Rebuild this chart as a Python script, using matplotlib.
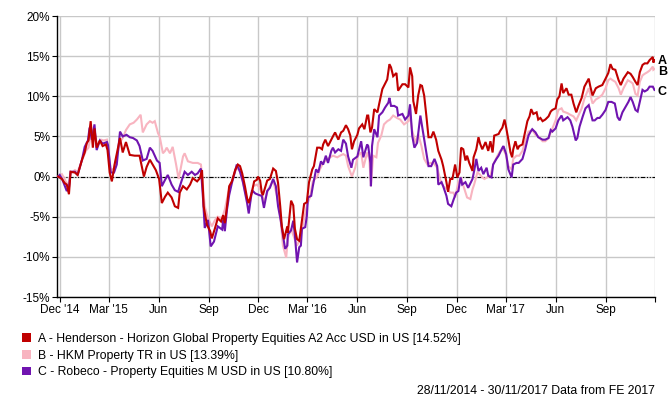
import pandas as pd
import matplotlib
matplotlib.use("Agg")
import matplotlib.pyplot as plt
from matplotlib.patches import Patch

START = pd.Timestamp("2014-11-28")

# days since 28/11/2014 and cumulative performance (%)
a_days = [0, 7, 12, 16, 20, 23, 31, 36, 44, 49, 53, 56, 60, 64, 67, 71, 77, 82, 88, 91,
          95, 99, 104, 110, 114, 119, 125, 132, 141, 150, 158, 163, 169, 174, 180, 186, 191, 197, 202, 209,
          215, 221, 224, 230, 237, 243, 248, 256, 261, 265, 268, 274, 280, 283, 289, 294, 300, 304, 307, 311,
          315, 320, 326, 331, 335, 339, 344, 348, 351, 357, 361, 366, 368, 372, 375, 377, 385, 390, 396, 401,
          405, 409, 412, 416, 422, 423, 429, 433, 436, 440, 444, 449, 453, 458, 462, 468, 471, 477, 482, 486,
          488, 492, 497, 503, 506, 510, 516, 521, 525, 530, 534, 538, 541, 545, 551, 554, 560, 564, 569, 571,
          575, 578, 582, 588, 591, 597, 600, 606, 610, 613, 617, 623, 626, 634, 639, 645, 648, 652, 654, 659,
          663, 667, 670, 674, 678, 682, 687, 691, 696, 700, 706, 709, 715, 718, 722, 726, 731, 735, 739, 742,
          746, 750, 753, 757, 763, 765, 770, 774, 777, 781, 787, 792, 796, 800, 803, 811, 814, 818, 822, 825,
          829, 833, 836, 838, 842, 846, 849, 855, 859, 864, 868, 871, 875, 881, 884, 888, 892, 897, 903, 907,
          910, 916, 919, 923, 927, 930, 936, 940, 945, 949, 954, 958, 964, 969, 977, 980, 984, 990, 995, 1002,
          1008, 1013, 1017, 1021, 1026, 1032, 1036, 1041, 1049, 1054, 1058, 1063, 1067, 1071, 1076, 1080, 1085, 1089, 1095, 1096,
          1098]
a_vals = [0.0, -0.3, -0.8, -1.0, -2.2, 0.6, 0.5, 0.2, 2.1, 3.0, 4.2, 4.5, 6.9, 3.6, 6.0, 3.6, 4.5, 3.8, 4.0, 3.3,
          0.5, -0.6, 1.5, 3.5, 4.8, 3.0, 4.3, 2.7, 2.6, 2.6, 0.0, 1.2, 2.1, 1.5, 0.8, -0.3, -3.3, -2.5, -2.0, -2.6,
          -3.7, -3.9, -2.0, -1.2, -1.6, -1.0, -0.2, -0.6, -0.2, 0.8, -3.7, -6.0, -6.8, -7.7, -6.4, -5.2, -5.6, -4.8, -5.8, -3.7,
          -1.2, -0.6, 0.8, 1.5, 1.3, 0.4, -1.2, -2.7, -3.3, -1.9, -0.6, -0.4, 0.0, -0.5, -2.0, -2.3, -0.5, -0.3, 1.0, 0.7,
          -0.8, -3.7, -6.2, -7.8, -6.2, -7.0, -3.0, -3.6, -6.5, -7.8, -8.0, -5.4, -3.4, -3.2, -0.7, 0.9, 1.3, 3.6, 3.6, 3.4,
          4.0, 4.6, 3.8, 4.6, 5.0, 5.5, 4.6, 5.5, 5.7, 6.4, 5.9, 5.1, 3.4, 4.4, 5.2, 6.0, 6.5, 5.9, 7.6, 7.6,
          5.5, 6.1, 8.4, 8.0, 9.0, 10.9, 11.3, 12.1, 14.0, 13.6, 12.5, 12.9, 10.7, 11.5, 11.5, 11.1, 13.6, 12.5, 9.4, 7.8,
          10.1, 11.4, 11.3, 10.1, 7.6, 4.9, 4.9, 5.6, 4.6, 3.2, 2.1, 1.3, -0.7, -1.9, -0.3, -0.3, 1.5, -0.1, 0.5, 3.6,
          3.4, 2.0, 2.6, 1.7, 0.7, 2.4, 3.4, 4.9, 4.1, 3.4, 4.3, 3.2, 4.4, 3.0, 5.1, 5.3, 5.7, 6.1, 7.1, 6.1,
          4.6, 3.0, 2.4, 3.4, 4.4, 3.4, 3.8, 4.0, 5.3, 6.9, 7.5, 8.4, 7.8, 8.0, 7.1, 7.3, 6.9, 7.1, 7.5, 8.1,
          8.3, 8.5, 9.6, 10.0, 11.6, 10.4, 11.0, 10.2, 10.2, 9.1, 8.0, 8.8, 9.8, 11.2, 12.2, 11.2, 10.1, 11.0, 11.2, 11.4,
          12.2, 12.9, 14.0, 13.4, 13.3, 12.0, 11.4, 12.2, 13.0, 12.8, 12.4, 11.8, 11.4, 13.0, 13.9, 14.1, 14.1, 14.5, 14.9, 14.2,
          14.5]

b_days = [0, 7, 12, 18, 23, 31, 36, 44, 51, 56, 62, 67, 73, 79, 84, 90, 93, 97, 103, 108,
          114, 119, 125, 132, 139, 145, 152, 156, 163, 169, 174, 178, 184, 187, 193, 197, 200, 206, 211, 217,
          222, 230, 233, 239, 248, 257, 263, 267, 270, 276, 283, 289, 294, 302, 307, 313, 320, 329, 335, 340,
          348, 353, 359, 366, 370, 375, 379, 387, 396, 403, 409, 414, 420, 423, 429, 433, 440, 446, 451, 458,
          464, 469, 477, 482, 488, 495, 501, 506, 514, 519, 525, 530, 534, 541, 547, 552, 558, 562, 569, 573,
          576, 580, 586, 589, 595, 600, 606, 611, 617, 624, 630, 637, 645, 648, 652, 658, 663, 669, 674, 680,
          685, 691, 698, 704, 709, 717, 722, 728, 731, 737, 742, 746, 753, 759, 763, 766, 772, 776, 781, 785,
          790, 796, 801, 809, 814, 820, 825, 829, 835, 838, 844, 849, 855, 860, 866, 873, 879, 884, 892, 897,
          903, 910, 916, 921, 927, 930, 938, 943, 949, 954, 958, 964, 969, 977, 980, 984, 990, 995, 1002, 1008,
          1013, 1017, 1021, 1026, 1032, 1036, 1041, 1049, 1054, 1058, 1063, 1067, 1071, 1076, 1080, 1085, 1089, 1095, 1096, 1098]
b_vals = [0.0, 0.3, -0.3, -1.2, 0.4, 0.8, 0.6, 2.0, 3.2, 3.6, 5.8, 5.0, 4.0, 4.6, 4.5, 4.6, 3.0, 0.8, 1.0, 2.5,
          4.3, 4.8, 5.8, 6.5, 6.7, 7.1, 7.7, 5.5, 6.5, 6.9, 6.7, 6.9, 5.4, 5.0, 2.9, 3.2, 3.6, 2.9, 3.7, 1.6,
          -0.3, 2.5, 2.9, 1.9, 1.7, 1.7, 1.5, -1.5, -3.7, -5.2, -6.2, -5.4, -5.0, -5.2, -4.1, -2.1, -0.6, 1.2, 0.6, -0.6,
          -2.9, -3.3, -1.2, -1.0, -1.3, -2.0, -3.2, -1.6, -0.5, -2.4, -4.8, -8.6, -10.1, -7.7, -6.5, -7.3, -8.6, -7.7, -5.9, -3.6,
          -2.5, -0.6, 0.0, 0.9, 1.7, 2.1, 2.4, 2.6, 2.4, 2.6, 2.8, 2.6, 1.3, 0.0, 1.1, 2.6, 3.0, 1.1, 3.0, 2.2,
          -1.2, 2.6, 2.4, 4.2, 5.1, 6.5, 6.9, 7.1, 7.6, 7.3, 7.1, 6.5, 6.9, 7.6, 5.7, 4.2, 5.3, 3.8, 2.2, 1.5,
          1.7, 1.7, 1.1, -0.5, -1.2, -1.6, -2.0, -2.0, -2.6, -0.7, -0.1, -1.1, -2.6, -2.8, -1.6, -1.0, 0.5, 0.3, -0.1, -0.3,
          -0.1, 0.1, 1.5, 2.6, 3.2, 3.4, 2.6, 1.3, 0.9, 2.2, 2.6, 2.6, 3.2, 4.4, 5.6, 5.8, 5.2, 5.0, 4.4, 4.4,
          4.8, 6.0, 7.0, 8.3, 8.5, 8.1, 7.9, 7.7, 7.5, 7.0, 7.6, 8.5, 9.7, 11.0, 10.2, 9.1, 9.6, 9.8, 10.2, 11.0,
          12.0, 12.2, 12.0, 11.8, 11.0, 10.2, 11.0, 12.0, 11.8, 11.6, 10.3, 10.1, 11.8, 12.6, 12.8, 13.0, 13.2, 13.7, 13.3, 13.4]

c_days = [0, 3, 8, 16, 20, 23, 31, 36, 44, 49, 55, 58, 62, 67, 71, 77, 82, 90, 92, 97,
          103, 108, 114, 119, 126, 132, 138, 145, 150, 156, 163, 169, 174, 182, 187, 191, 197, 202, 209, 215,
          221, 228, 233, 239, 246, 252, 257, 263, 267, 270, 276, 281, 287, 294, 302, 304, 307, 311, 315, 320,
          329, 335, 340, 348, 351, 357, 363, 370, 375, 379, 385, 390, 396, 401, 405, 410, 414, 418, 422, 423,
          429, 433, 436, 440, 444, 447, 449, 455, 458, 460, 466, 469, 475, 479, 484, 488, 493, 497, 503, 506,
          510, 516, 521, 525, 530, 534, 540, 543, 551, 552, 558, 562, 569, 571, 575, 576, 578, 582, 588, 591,
          597, 602, 608, 610, 613, 619, 624, 626, 634, 639, 645, 648, 652, 656, 661, 667, 672, 678, 682, 687,
          693, 698, 700, 706, 709, 715, 718, 724, 728, 733, 737, 741, 744, 750, 755, 763, 766, 770, 774, 779,
          783, 789, 792, 798, 801, 807, 811, 818, 820, 825, 829, 835, 838, 844, 848, 855, 860, 866, 870, 873,
          879, 884, 892, 897, 903, 907, 910, 916, 921, 927, 930, 938, 943, 947, 953, 956, 960, 966, 971, 977,
          980, 984, 988, 993, 997, 1002, 1008, 1013, 1019, 1025, 1030, 1034, 1039, 1045, 1050, 1054, 1058, 1063, 1067, 1071,
          1076, 1080, 1085, 1089, 1095, 1098]
c_vals = [0.0, 0.2, -0.4, -1.8, -1.4, 0.6, 0.6, 0.2, 2.1, 3.7, 4.5, 6.1, 4.6, 6.5, 3.3, 4.5, 4.1, 4.3, 3.9, 0.5,
          0.5, 1.5, 5.6, 5.0, 5.2, 4.9, 4.8, 4.5, 3.8, 2.0, 2.2, 3.6, 3.2, 2.0, 1.7, -1.2, -0.4, 0.2, -1.0, -1.7,
          -1.9, -0.4, 0.6, 0.2, 0.6, 0.2, 0.4, 1.0, -2.9, -6.4, -5.4, -8.7, -8.1, -6.2, -6.6, -5.4, -6.8, -4.1, -2.3, -0.8,
          1.5, 0.6, -0.6, -3.3, -4.6, -1.7, -2.1, -2.3, -2.4, -3.9, -1.8, -1.4, -0.3, -1.2, -3.7, -5.5, -7.3, -9.0, -8.6, -7.2,
          -6.7, -5.5, -7.3, -10.7, -8.8, -8.6, -6.5, -6.3, -4.9, -2.6, -2.4, -1.2, 0.9, 0.5, 1.9, 1.5, 2.6, 1.7, 3.2, 3.6,
          3.0, 3.4, 3.2, 4.6, 4.1, 2.5, 1.1, 2.1, 2.5, 2.8, 4.4, 2.4, 4.0, 3.8, 1.7, -1.2, 3.8, 5.9, 4.9, 7.6,
          8.0, 8.6, 9.2, 9.8, 8.8, 8.8, 8.6, 7.6, 7.8, 7.1, 7.6, 9.0, 5.1, 3.6, 4.2, 7.6, 5.5, 3.0, 1.3, 1.3,
          2.2, 1.3, -1.0, -0.7, -1.2, -2.4, -3.4, -3.7, -2.9, -2.0, -1.8, -0.1, -1.0, -0.7, -1.4, -0.3, 0.7, 2.2, 0.7, 1.1,
          0.3, 1.1, 0.1, -0.1, 1.5, 2.2, 2.6, 3.6, 3.8, 2.8, 0.9, -0.1, 1.5, 1.7, 1.7, 2.2, 3.4, 5.1, 5.6, 5.9,
          5.5, 4.9, 4.6, 4.6, 4.8, 5.8, 5.6, 6.0, 7.0, 7.6, 7.0, 7.4, 7.0, 6.2, 4.5, 4.8, 6.2, 7.5, 8.5, 8.9,
          8.1, 7.0, 7.0, 7.3, 7.3, 7.7, 8.3, 9.3, 9.3, 9.1, 7.4, 7.0, 8.0, 8.7, 9.3, 9.9, 9.3, 8.3, 8.1, 9.3,
          10.8, 10.6, 10.8, 11.2, 11.2, 10.8]

names = ["A - Henderson - Horizon Global Property Equities A2 Acc USD in US [14.52%]",
         "B - HKM Property TR in US [13.39%]",
         "C - Robeco - Property Equities M USD in US [10.80%]"]
tags = ["A", "B", "C"]
colors = ["#c00000", "#f8b4c0", "#7014b0"]

tick_dates = ["2014-12-01", "2015-03-01", "2015-06-01", "2015-09-01", "2015-12-01", "2016-03-01",
              "2016-06-01", "2016-09-01", "2016-12-01", "2017-03-01", "2017-06-01", "2017-09-01", "2017-12-01"]
tick_labels = ["Dec '14", "Mar '15", "Jun", "Sep", "Dec", "Mar '16", "Jun", "Sep", "Dec", "Mar '17", "Jun", "Sep", ""]
y_ticks = [-15, -10, -5, 0, 5, 10, 15, 20]

series = [(a_days, a_vals), (b_days, b_vals), (c_days, c_vals)]
for d, v in series:
    assert len(d) == len(v), (len(d), len(v))

plt.rcParams["font.family"] = ["Liberation Sans", "DejaVu Sans"]

fig = plt.figure(figsize=(6.69, 4.0), dpi=100)
ax = fig.add_axes([57 / 669, 1 - 297 / 400, (655 - 57) / 669, (297 - 16) / 400])

# pink under purple under red
order = [1, 2, 0]
for z, i in enumerate(order):
    d, v = series[i]
    dates = START + pd.to_timedelta(d, unit="D")
    ax.plot(dates, v, color=colors[i], lw=1.5, zorder=3 + z, solid_joinstyle="miter")

ax.axhline(0, color="black", lw=0.8, ls=(0, (4, 1.5, 1, 1.5, 1, 1.5)), zorder=2)

ax.set_ylim(-15, 20)
ax.set_xlim(START - pd.Timedelta(days=2), pd.Timestamp("2017-12-01"))
ax.set_yticks(y_ticks)
ax.set_yticklabels([f"{t}%" for t in y_ticks])
ax.set_xticks(pd.to_datetime(tick_dates))
ax.set_xticklabels(tick_labels)
ax.grid(True, color="#c8c8c8", lw=1.0, zorder=1)
ax.set_axisbelow(True)
for s in ["top", "right"]:
    ax.spines[s].set_visible(False)
for s in ["left", "bottom"]:
    ax.spines[s].set_color("black")
    ax.spines[s].set_linewidth(1.0)
ax.tick_params(axis="both", labelsize=8.5, length=3.5, width=0.8, color="black", pad=1.5)

# end labels
label_shift = [-0.5, -2.5, -1.2]
for i, (d, v) in enumerate(series):
    end = START + pd.Timedelta(days=d[-1])
    ax.annotate(tags[i], xy=(end, v[-1]), xytext=(2.5, label_shift[i]), textcoords="offset points",
                va="center", ha="left", fontsize=9, fontweight="bold", annotation_clip=False)

handles = [Patch(facecolor=c, edgecolor="none") for c in colors]
fig.legend(handles, names, loc="upper left", bbox_to_anchor=(22 / 669, 1 - 333 / 400),
           frameon=False, fontsize=8.8, handlelength=0.7, handleheight=0.7,
           handletextpad=0.6, labelspacing=0.38, borderpad=0, borderaxespad=0)

fig.text(655 / 669, 1 - 391 / 400, "28/11/2014 - 30/11/2017 Data from FE 2017",
         ha="right", va="center", fontsize=8.8)

fig.savefig("out.png", dpi=100)
